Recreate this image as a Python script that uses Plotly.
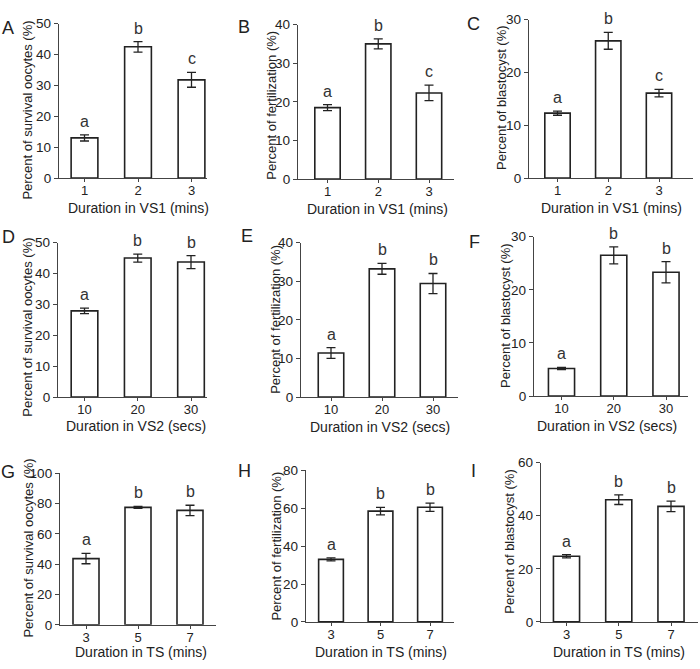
import plotly.graph_objects as go

# ---------------- data ----------------
cats_vs1 = ["1", "2", "3"]
cats_vs2 = ["10", "20", "30"]
cats_ts = ["3", "5", "7"]

survival_vs1 = [13.0, 42.5, 31.8]
survival_vs1_err = [1.0, 1.7, 2.4]
fert_vs1 = [18.5, 35.0, 22.3]
fert_vs1_err = [0.8, 1.3, 2.0]
blast_vs1 = [12.3, 26.0, 16.1]
blast_vs1_err = [0.4, 1.6, 0.7]

survival_vs2 = [27.9, 45.0, 43.7]
survival_vs2_err = [0.9, 1.3, 2.1]
fert_vs2 = [11.4, 33.2, 29.4]
fert_vs2_err = [1.4, 1.4, 2.6]
blast_vs2 = [5.2, 26.5, 23.3]
blast_vs2_err = [0.2, 1.6, 2.0]

survival_ts = [43.7, 77.5, 75.5]
survival_ts_err = [3.4, 0.7, 3.4]
fert_ts = [33.0, 58.5, 60.5]
fert_ts_err = [0.8, 2.0, 2.2]
blast_ts = [24.7, 46.0, 43.5]
blast_ts_err = [0.6, 1.8, 2.0]

letters_A = ["a", "b", "c"]
letters_B = ["a", "b", "c"]
letters_C = ["a", "b", "c"]
letters_D = ["a", "b", "b"]
letters_E = ["a", "b", "b"]
letters_F = ["a", "b", "b"]
letters_G = ["a", "b", "b"]
letters_H = ["a", "b", "b"]
letters_I = ["a", "b", "b"]

ylab_surv = "Percent of survival oocytes (%)"
ylab_fert = "Percent of fertilization (%)"
ylab_blast = "Percent of blastocyst (%)"
xlab_vs1 = "Duration in VS1 (mins)"
xlab_vs2 = "Duration in VS2 (secs)"
xlab_ts = "Duration in TS (mins)"

# ---------------- layout geometry (pixels) ----------------
W, H = 700, 669
FONT = "Liberation Sans, Arial, sans-serif"
INK = "#222222"

panels = [
    dict(tag="A", cats=cats_vs1, v=survival_vs1, e=survival_vs1_err, L=letters_A, ymax=50, dt=10, yl=ylab_surv, xl=xlab_vs1,
         x0=59, xe=207, c1=84.5, c3=191.5, y0=175, yt=17, tagpos=(8, 21), ylpos=(28, 106), xlpos=(138, 206)),
    dict(tag="B", cats=cats_vs1, v=fert_vs1, e=fert_vs1_err, L=letters_B, ymax=40, dt=10, yl=ylab_fert, xl=xlab_vs1,
         x0=298, xe=454, c1=327.5, c3=429, y0=176, yt=18, tagpos=(244, 20), ylpos=(272, 101), xlpos=(377, 207)),
    dict(tag="C", cats=cats_vs1, v=blast_vs1, e=blast_vs1_err, L=letters_C, ymax=30, dt=10, yl=ylab_blast, xl=xlab_vs1,
         x0=529, xe=693, c1=557.5, c3=659, y0=175, yt=13, tagpos=(473, 17), ylpos=(502, 93), xlpos=(611, 206)),
    dict(tag="D", cats=cats_vs2, v=survival_vs2, e=survival_vs2_err, L=letters_D, ymax=50, dt=10, yl=ylab_surv, xl=xlab_vs2,
         x0=58, xe=207, c1=84.5, c3=191, y0=399, yt=241, tagpos=(8, 235), ylpos=(28, 328), xlpos=(136, 429)),
    dict(tag="E", cats=cats_vs2, v=fert_vs2, e=fert_vs2_err, L=letters_E, ymax=40, dt=10, yl=ylab_fert, xl=xlab_vs2,
         x0=301, xe=458, c1=331, c3=433, y0=399, yt=241, tagpos=(247, 234), ylpos=(276, 320), xlpos=(380, 430)),
    dict(tag="F", cats=cats_vs2, v=blast_vs2, e=blast_vs2_err, L=letters_F, ymax=30, dt=10, yl=ylab_blast, xl=xlab_vs2,
         x0=534, xe=688, c1=561.5, c3=666, y0=398, yt=235, tagpos=(474, 240), ylpos=(506, 316), xlpos=(607, 429)),
    dict(tag="G", cats=cats_ts, v=survival_ts, e=survival_ts_err, L=letters_G, ymax=100, dt=20, yl=ylab_surv, xl=xlab_ts,
         x0=60, xe=216, c1=86, c3=190, y0=632, yt=477, tagpos=(8, 476), ylpos=(29, 554), xlpos=(141, 660)),
    dict(tag="H", cats=cats_ts, v=fert_ts, e=fert_ts_err, L=letters_H, ymax=80, dt=20, yl=ylab_fert, xl=xlab_ts,
         x0=306, xe=454, c1=331, c3=430, y0=629, yt=474, tagpos=(245, 475), ylpos=(277, 552), xlpos=(381, 660)),
    dict(tag="I", cats=cats_ts, v=blast_ts, e=blast_ts_err, L=letters_I, ymax=60, dt=20, yl=ylab_blast, xl=xlab_ts,
         x0=541, xe=698, c1=566.5, c3=671, y0=629, yt=466, tagpos=(473, 475), ylpos=(510, 547), xlpos=(619, 660)),
]


def px(x):
    return x / W


def py(y):
    return 1 - y / H


fig = go.Figure()
layout = {}
annotations = []

for i, p in enumerate(panels, start=1):
    xa = "x" if i == 1 else f"x{i}"
    ya = "y" if i == 1 else f"y{i}"
    s = (p["c3"] - p["c1"]) / 2.0
    lo = (p["x0"] - p["c1"]) / s
    hi = 2 + (p["xe"] - p["c3"]) / s
    xpos = [0, 1, 2]

    fig.add_trace(go.Bar(
        x=xpos, y=p["v"], xaxis=xa, yaxis=ya, width=0.5,
        marker=dict(color="white", line=dict(color=INK, width=1.6)),
        error_y=dict(type="data", array=p["e"], visible=True, color=INK, thickness=1.3, width=4.5),
        showlegend=False, hoverinfo="y",
    ))

    layout[f"xaxis{'' if i == 1 else i}"] = dict(
        domain=[px(p["x0"]), px(p["xe"])], anchor=ya, range=[lo, hi],
        tickmode="array", tickvals=xpos, ticktext=p["cats"],
        showline=True, linecolor="#444444", linewidth=1.3, ticks="outside", ticklen=3,
        tickcolor="#444444", tickwidth=1.2, showgrid=False, zeroline=False,
        ticklabelstandoff=-3,
        tickfont=dict(family=FONT, size=13, color=INK), fixedrange=True,
    )
    layout[f"yaxis{'' if i == 1 else i}"] = dict(
        domain=[py(p["y0"]), py(p["yt"])], anchor=xa, range=[0, p["ymax"]],
        tick0=0, dtick=p["dt"],
        showline=True, linecolor="#444444", linewidth=1.3, ticks="outside", ticklen=4,
        tickcolor="#444444", tickwidth=1.2, showgrid=False, zeroline=False,
        tickfont=dict(family=FONT, size=13.5, color=INK), fixedrange=True,
    )

    for k in range(3):
        annotations.append(dict(
            x=xpos[k], y=p["v"][k] + p["e"][k], xref=xa, yref=ya,
            text=p["L"][k], showarrow=False, yanchor="bottom", yshift=3,
            font=dict(family=FONT, size=16, color="#333333"),
        ))

    annotations.append(dict(
        x=px(p["tagpos"][0]), y=py(p["tagpos"][1]), xref="paper", yref="paper",
        text=p["tag"], showarrow=False, xanchor="center", yanchor="middle",
        font=dict(family=FONT, size=18, color=INK),
    ))
    annotations.append(dict(
        x=px(p["ylpos"][0]), y=py(p["ylpos"][1]), xref="paper", yref="paper",
        text=p["yl"], showarrow=False, textangle=-90, xanchor="center", yanchor="middle",
        font=dict(family=FONT, size=13, color=INK),
    ))
    annotations.append(dict(
        x=px(p["xlpos"][0]), y=py(p["xlpos"][1]), xref="paper", yref="paper",
        text=p["xl"], showarrow=False, xanchor="center", yanchor="middle",
        font=dict(family=FONT, size=14, color=INK),
    ))

fig.update_layout(
    width=W, height=H, margin=dict(l=0, r=0, t=0, b=0),
    paper_bgcolor="white", plot_bgcolor="white",
    annotations=annotations, bargap=0.5, **layout,
)

fig.write_html(
    "out.html",
    config={"displayModeBar": False},
    post_script="document.body.style.margin='0';document.body.style.overflow='hidden';",
)
